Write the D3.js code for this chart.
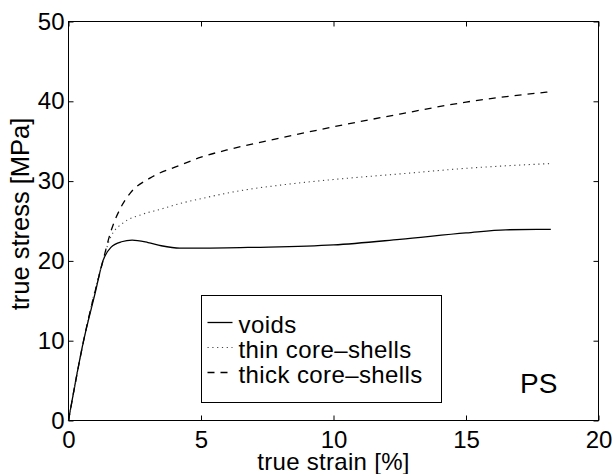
<!DOCTYPE html>
<html>
<head>
<meta charset="utf-8">
<script src="https://cdn.jsdelivr.net/npm/d3@7"></script>
<style>
  body { margin: 0; background: #fff; }
  svg { display: block; font-family: "Liberation Sans", Arial, sans-serif; }
  .axis text { font-size: 24px; fill: #000; }
  .axis line { stroke: #000; }
  .axis path { display: none; }
</style>
</head>
<body>
<script>
// strain [%] / stress [MPa]
const voidsStrain = [0, 0.57, 1.0, 1.3, 1.6, 2.0, 2.4, 3.0, 3.5, 4.2, 5, 7, 10, 12.5, 15, 16.5, 18.2];
const voidsStress = [0, 10, 15.9, 20, 21.7, 22.4, 22.6, 22.3, 21.9, 21.6, 21.6, 21.7, 22.0, 22.7, 23.5, 23.9, 23.95];

const thinStrain = [0, 0.57, 1.3, 1.58, 2.08, 2.71, 3.5, 4.22, 5, 6.48, 8, 10, 12.5, 15, 18.2];
const thinStress = [0, 10, 20, 22.9, 24.8, 25.75, 26.5, 27.2, 27.8, 28.8, 29.5, 30.2, 30.9, 31.6, 32.2];

const thickStrain = [0, 0.57, 1.3, 1.58, 1.96, 2.33, 3.09, 4.22, 5, 5.98, 8, 10, 12.5, 15, 18.2];
const thickStress = [0, 10, 20, 23.5, 26.6, 28.5, 30.4, 32.0, 33.0, 33.9, 35.4, 36.8, 38.4, 39.9, 41.2];

const seriesNames = ['voids', 'thin core\u2013shells', 'thick core\u2013shells'];
const xTicks = [0, 5, 10, 15, 20];
const yTicks = [0, 10, 20, 30, 40, 50];

const width = 614;
const height = 474;

let svg = d3.select('body')
  .append('svg')
  .attr('width', width)
  .attr('height', height);

let x = d3.scaleLinear().domain([0, 20]).range([68.5, 598.5]);
let y = d3.scaleLinear().domain([0, 50]).range([420.5, 21.5]);

// axes, ticks pointing inward on all four sides
svg.append('g')
  .attr('class', 'axis')
  .attr('transform', `translate(0, ${y(0)})`)
  .call(d3.axisBottom(x).tickValues(xTicks).tickSizeInner(-5).tickSizeOuter(0).tickPadding(10));

svg.append('g')
  .attr('class', 'axis')
  .attr('transform', `translate(${x(0)}, 0)`)
  .call(d3.axisLeft(y).tickValues(yTicks).tickSizeInner(-5).tickSizeOuter(0).tickPadding(4));

svg.append('g')
  .attr('class', 'axis')
  .attr('transform', `translate(0, ${y(50)})`)
  .call(d3.axisTop(x).tickValues(xTicks).tickSizeInner(-5).tickSizeOuter(0).tickFormat(''));

svg.append('g')
  .attr('class', 'axis')
  .attr('transform', `translate(${x(20)}, 0)`)
  .call(d3.axisRight(y).tickValues(yTicks).tickSizeInner(-5).tickSizeOuter(0).tickFormat(''));

svg.append('rect')
  .attr('x', x(0))
  .attr('y', y(50))
  .attr('width', x(20) - x(0))
  .attr('height', y(0) - y(50))
  .attr('fill', 'none')
  .attr('stroke', '#000')
  .attr('stroke-width', 1);

// curves
let line = d3.line()
  .x(d => x(d[0]))
  .y(d => y(d[1]))
  .curve(d3.curveMonotoneX);

let series = [
  { pts: d3.zip(voidsStrain, voidsStress), dash: null, color: '#000', w: 1.3 },
  { pts: d3.zip(thinStrain, thinStress), dash: '1.2,3.6', color: '#444', w: 1.1 },
  { pts: d3.zip(thickStrain, thickStress), dash: '7,6', color: '#000', w: 1.3 }
];

svg.selectAll('path.curve')
  .data(series)
  .enter()
  .append('path')
  .attr('class', 'curve')
  .attr('d', d => line(d.pts))
  .attr('fill', 'none')
  .attr('stroke', d => d.color)
  .attr('stroke-width', d => d.w)
  .attr('stroke-dasharray', d => d.dash);

// axis labels
svg.append('text')
  .attr('x', (x(0) + x(20)) / 2)
  .attr('y', 470)
  .attr('text-anchor', 'middle')
  .attr('font-size', 24)
  .attr('letter-spacing', 0.3)
  .text('true strain [%]');

svg.append('text')
  .attr('transform', 'translate(28.5, 214) rotate(-90)')
  .attr('text-anchor', 'middle')
  .attr('font-size', 25.5)
  .text('true stress [MPa]');

svg.append('text')
  .attr('x', 520)
  .attr('y', 392.5)
  .attr('font-size', 28)
  .text('PS');

// legend
let legend = svg.append('g')
  .attr('transform', 'translate(201.5, 295.5)');

legend.append('rect')
  .attr('width', 240)
  .attr('height', 107)
  .attr('fill', '#fff')
  .attr('stroke', '#000')
  .attr('stroke-width', 1);

let legendItem = legend.selectAll('g.item')
  .data(series)
  .enter()
  .append('g')
  .attr('class', 'item')
  .attr('transform', (d, i) => `translate(0, ${37.5 + i * 25})`);

legendItem.append('line')
  .attr('x1', 6)
  .attr('x2', 31)
  .attr('y1', -10.5)
  .attr('y2', -10.5)
  .attr('stroke', d => d.color)
  .attr('stroke-width', d => d.w)
  .attr('stroke-dasharray', d => d.dash);

legendItem.append('text')
  .attr('x', 37)
  .attr('font-size', 24)
  .attr('letter-spacing', 0.4)
  .text((d, i) => seriesNames[i]);
</script>
</body>
</html>
